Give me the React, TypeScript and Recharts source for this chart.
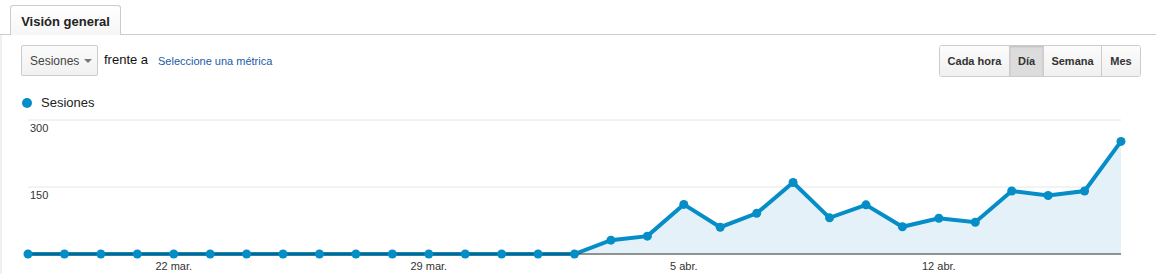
import { AreaChart, Area, XAxis, YAxis, CartesianGrid } from 'recharts';

const days = [
  '18 mar.', '19 mar.', '20 mar.', '21 mar.', '22 mar.', '23 mar.', '24 mar.',
  '25 mar.', '26 mar.', '27 mar.', '28 mar.', '29 mar.', '30 mar.', '31 mar.',
  '1 abr.', '2 abr.', '3 abr.', '4 abr.', '5 abr.', '6 abr.', '7 abr.',
  '8 abr.', '9 abr.', '10 abr.', '11 abr.', '12 abr.', '13 abr.', '14 abr.',
  '15 abr.', '16 abr.', '17 abr.',
];

const sesiones = [
  0, 0, 0, 0, 0, 0, 0, 0, 0, 0, 0, 0, 0, 0, 0, 0,
  31, 40, 111, 60, 91, 160, 81, 110, 61, 80, 71, 141, 131, 141, 252,
];

const xTicks = ['22 mar.', '29 mar.', '5 abr.', '12 abr.'];
const yTicks = [150, 300];

const data = days.map((d, i) => ({ day: d, sesiones: sesiones[i] }));

const FONT = 'Arial, "Liberation Sans", sans-serif';
const BLUE = '#058dc7';

function YTick({ x, y, payload }: any) {
  return (
    <text x={x + 2} y={y + 12} fontSize={11} fill="#333" fontFamily={FONT} textAnchor="start">
      {payload.value}
    </text>
  );
}

function XTick({ x, y, payload }: any) {
  return (
    <text x={x} y={y + 16} fontSize={11} fill="#333" fontFamily={FONT} textAnchor="middle">
      {payload.value}
    </text>
  );
}

const btn = (active: boolean, w: number, last: boolean): React.CSSProperties => ({
  width: w,
  height: 30,
  boxSizing: 'border-box',
  display: 'flex',
  alignItems: 'center',
  justifyContent: 'center',
  fontWeight: 'bold',
  fontSize: 11,
  color: '#333',
  borderRight: last ? 'none' : '1px solid #ccc',
  background: active ? '#dcdcdc' : 'linear-gradient(#fcfcfc, #f0f0f0)',
  boxShadow: active ? 'inset 0 1px 2px rgba(0,0,0,0.15)' : 'none',
});

export default function App() {
  return (
    <div
      style={{
        position: 'absolute',
        left: 0,
        top: 0,
        width: 1156,
        height: 274,
        background: '#fff',
        fontFamily: FONT,
        overflow: 'hidden',
      }}
    >
      {/* tab strip */}
      <div style={{ position: 'absolute', left: 0, top: 34, width: 1156, height: 1, background: '#ccc' }} />
      <div style={{ position: 'absolute', left: 0, top: 35, width: 2, height: 239, background: '#f0f0f0' }} />
      <div
        style={{
          position: 'absolute',
          left: 10,
          top: 5,
          width: 111,
          height: 30,
          boxSizing: 'border-box',
          border: '1px solid #ccc',
          borderBottom: 'none',
          borderRadius: '3px 3px 0 0',
          background: 'linear-gradient(#ffffff, #f6f6f6)',
          fontWeight: 'bold',
          fontSize: 13,
          color: '#222',
          display: 'flex',
          alignItems: 'center',
          justifyContent: 'center',
          paddingTop: 2,
        }}
      >
        Visión general
      </div>

      {/* metric selector */}
      <div
        style={{
          position: 'absolute',
          left: 21,
          top: 45,
          width: 77,
          height: 31,
          boxSizing: 'border-box',
          border: '1px solid #ccc',
          borderRadius: 2,
          background: 'linear-gradient(#fbfbfb, #f1f1f1)',
          fontSize: 12,
          color: '#444',
        }}
      >
        <span style={{ position: 'absolute', left: 8, top: 8 }}>Sesiones</span>
        <span
          style={{
            position: 'absolute',
            left: 62,
            top: 13,
            width: 0,
            height: 0,
            borderLeft: '4px solid transparent',
            borderRight: '4px solid transparent',
            borderTop: '4px solid #777',
          }}
        />
      </div>
      <span style={{ position: 'absolute', left: 104, top: 52, fontSize: 13, color: '#111' }}>frente a</span>
      <span style={{ position: 'absolute', left: 158, top: 55, fontSize: 11, color: '#1a5ca8' }}>
        Seleccione una métrica
      </span>

      {/* granularity buttons */}
      <div
        style={{
          position: 'absolute',
          left: 939,
          top: 45,
          height: 32,
          boxSizing: 'border-box',
          border: '1px solid #ccc',
          borderRadius: 3,
          display: 'flex',
          overflow: 'hidden',
        }}
      >
        <div style={btn(false, 70, false)}>Cada hora</div>
        <div style={btn(true, 34, false)}>Día</div>
        <div style={btn(false, 58, false)}>Semana</div>
        <div style={btn(false, 38, true)}>Mes</div>
      </div>

      {/* legend */}
      <div
        style={{
          position: 'absolute',
          left: 22,
          top: 98,
          width: 10,
          height: 10,
          borderRadius: 5,
          background: BLUE,
        }}
      />
      <span style={{ position: 'absolute', left: 41, top: 95, fontSize: 13, color: '#222' }}>Sesiones</span>

      <div style={{ position: 'absolute', left: 0, top: 0 }}>
        <AreaChart
          width={1156}
          height={274}
          data={data}
          margin={{ top: 120, right: 35, bottom: 0, left: 0 }}
        >
          <CartesianGrid vertical={false} stroke="#e6e6e6" />
          <XAxis
            dataKey="day"
            ticks={xTicks}
            interval={0}
            height={20}
            tickLine={false}
            tickSize={0}
            tickMargin={0}
            axisLine={{ stroke: '#333', strokeWidth: 1 }}
            tick={<XTick />}
          />
          <YAxis
            width={28}
            domain={[0, 300]}
            ticks={yTicks}
            axisLine={false}
            tickLine={false}
            tickSize={0}
            tickMargin={0}
            tick={<YTick />}
          />
          <Area
            type="linear"
            dataKey="sesiones"
            stroke={BLUE}
            strokeWidth={4}
            fill="#e4f1f9"
            fillOpacity={1}
            dot={{ r: 4.5, fill: BLUE, stroke: 'none' }}
            activeDot={false}
            isAnimationActive={false}
          />
        </AreaChart>
      </div>
    </div>
  );
}
